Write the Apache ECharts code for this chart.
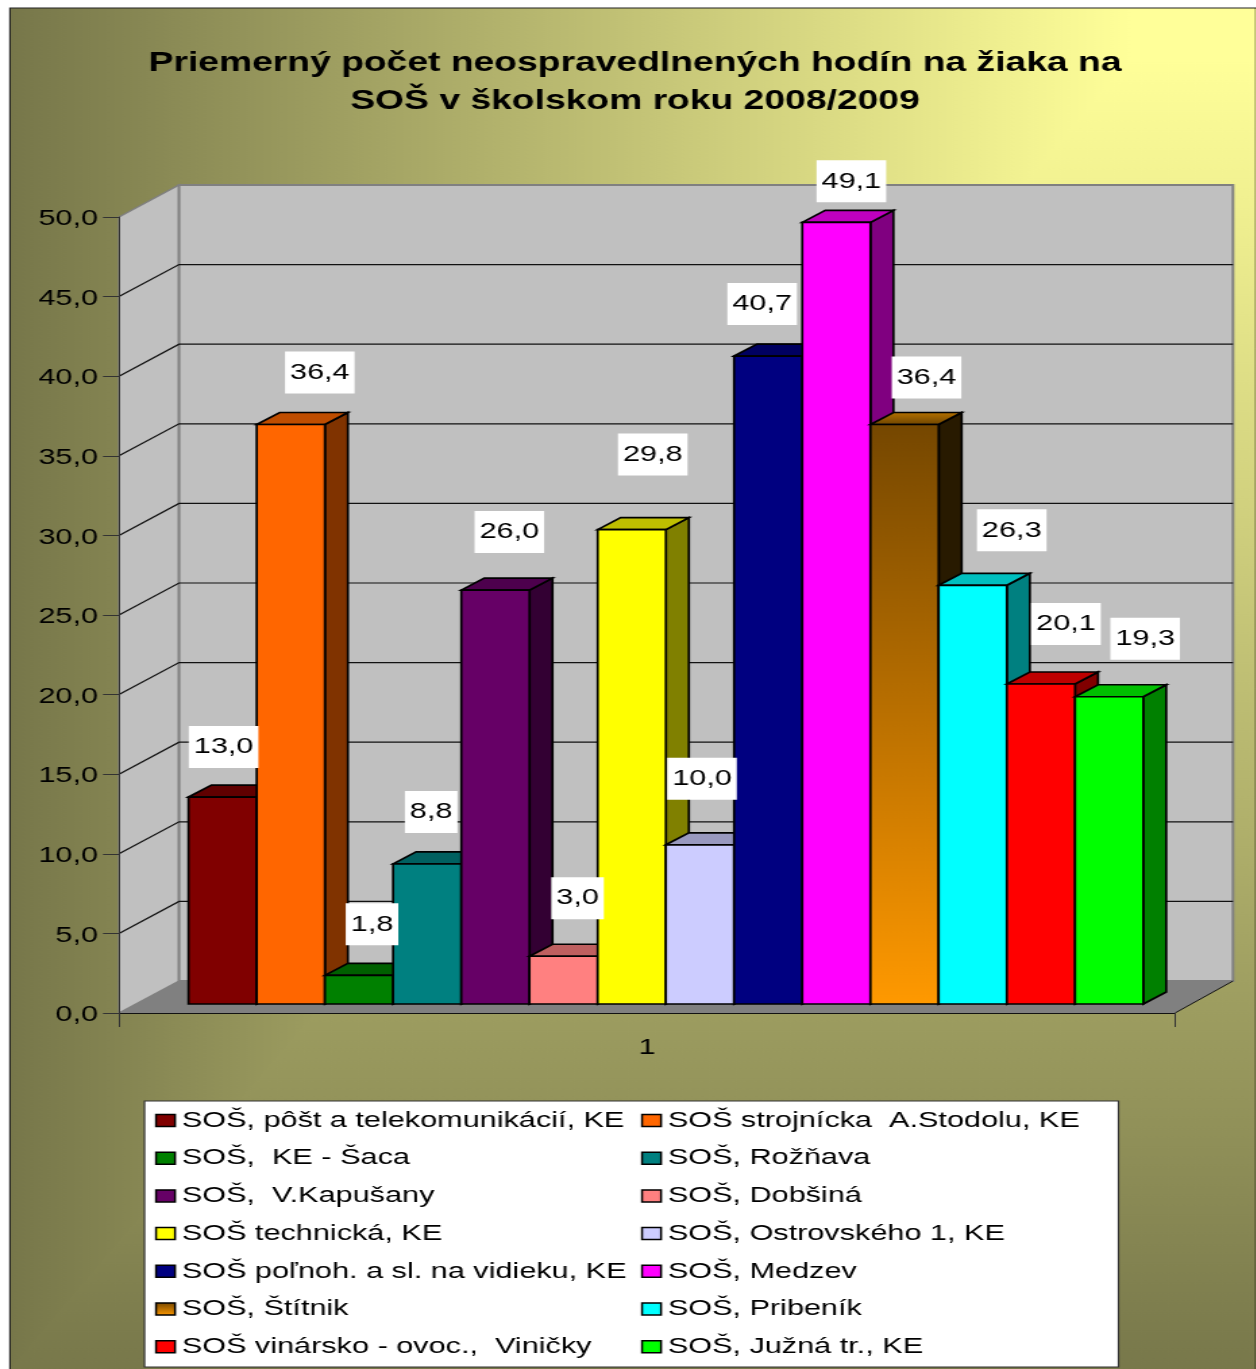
<!DOCTYPE html>
<html><head><meta charset="utf-8">
<style>html,body{margin:0;padding:0;background:#fff;overflow:hidden;width:1256px;height:1369px}
#c{position:absolute;left:0;top:0;transform:scaleX(1.35);transform-origin:0 0}</style>
<script src="https://cdn.jsdelivr.net/npm/echarts@6/dist/echarts.min.js"></script></head>
<body><div id="c"></div>
<script>
// Data
const categories = ['1'];
const schools = ['SOŠ, pôšt a telekomunikácií, KE','SOŠ strojnícka  A.Stodolu, KE','SOŠ,  KE - Šaca','SOŠ, Rožňava','SOŠ,  V.Kapušany','SOŠ, Dobšiná','SOŠ technická, KE','SOŠ, Ostrovského 1, KE','SOŠ poľnoh. a sl. na vidieku, KE','SOŠ, Medzev','SOŠ, Štítnik','SOŠ, Pribeník','SOŠ vinársko - ovoc.,  Viničky','SOŠ, Južná tr., KE'];
const values = [13.0,36.4,1.8,8.8,26.0,3.0,29.8,10.0,40.7,49.1,36.4,26.3,20.1,19.3];
const yTicks = [0,5,10,15,20,25,30,35,40,45,50];
const title = 'Priemerný počet neospravedlnených hodín na žiaka na\nSOŠ v školskom roku 2008/2009';
// Styles and label placement
const barColors = ['#800000','#FF6600','#008000','#008080','#660066','#FF8080','#FFFF00','#CCCCFF','#000080','#FF00FF','#FF9900','#00FFFF','#FF0000','#00FF00'];
const labelShiftX = [1,29,13,4,14,14,21,2,-6,15,22,39,25,36];
const labelLift = [50,52,51,52,58,58,75,66,52,41,47,55,60,58];

const S = 1.35, FONT = 'Liberation Sans', FS = 22.7;
const px = v => v / S;
const W = 1256 / S, H = 1369;
const dom = document.getElementById('c');
dom.style.width = W + 'px'; dom.style.height = H + 'px';
const chart = echarts.init(dom, null, {width: W, height: H});

const shade = (hex, k) => {
  const n = parseInt(hex.slice(1), 16);
  return 'rgb(' + [(n>>16)&255, (n>>8)&255, n&255].map(c => Math.round(c*k)).join(',') + ')';
};
const vGrad = (a, b) => ({type:'linear',x:0,y:0,x2:0,y2:1,colorStops:[{offset:0,color:a},{offset:1,color:b}]});
const BLACK = '#000';
const GRAD = 10;

const WALL_DX = px(60), WALL_DY = -32, WALL_DX_R = px(58);
const BAR_DX = px(23), BAR_DY = -12;
const BASE_DY = -9;

function renderWall(params, api) {
  const v = api.value(1);
  const c = api.coord([0, v]);
  const bw = api.size([1, 0])[0];
  const l = c[0] - bw/2, r = c[0] + bw/2;
  const y = c[1];
  const children = [];
  if (params.dataIndex === 0) {
    const top = api.coord([0, 50])[1];
    children.push(
      {type:'polygon', z2:0, shape:{points:[[l,y],[l+WALL_DX,y+WALL_DY],[r+WALL_DX_R,y+WALL_DY],[r,y]]}, style:{fill:'#808080'}},
      {type:'polygon', z2:0, shape:{points:[[l,top],[l+WALL_DX,top+WALL_DY],[l+WALL_DX,y+WALL_DY],[l,y]]}, style:{fill:'#C0C0C0',stroke:'#808080',lineWidth:1.5}},
      {type:'rect', z2:0, shape:{x:l+WALL_DX,y:top+WALL_DY,width:r+WALL_DX_R-l-WALL_DX,height:y-top}, style:{fill:'#C0C0C0',stroke:'#808080',lineWidth:2}},
      {type:'line', z2:2, shape:{x1:r,y1:y,x2:r+WALL_DX_R,y2:y+WALL_DY}, style:{stroke:'#111',lineWidth:1}}
    );
  }
  if (v > 0 && v < 50) {
    children.push({type:'polyline', z2:1, shape:{points:[[l,y],[l+WALL_DX,y+WALL_DY],[r+WALL_DX_R,y+WALL_DY]]}, style:{stroke:'#111',lineWidth:1.2,fill:null}});
  }
  return {type:'group', children};
}

function makeBarRenderer(i) {
  return function (params, api) {
    const v = api.value(1);
    const bw = api.size([1, 0])[0];
    const cx = api.coord([0, v])[0];
    const barW = bw * 0.06458;
    const x0 = cx - bw/2 + bw*0.0658 + i*barW;
    const x1 = x0 + barW;
    const yT = api.coord([0, v])[1] + BASE_DY;
    const yB = api.coord([0, 0])[1] + BASE_DY;
    const line = {stroke:BLACK, lineWidth:1.7, lineJoin:'miter'};
    const isGrad = i === GRAD;
    const frontFill = isGrad ? vGrad('#754700', barColors[i]) : barColors[i];
    const topFill = isGrad ? vGrad('#b87300', '#6b4300') : shade(barColors[i], 0.75);
    const sideFill = isGrad ? '#281A00' : shade(barColors[i], 0.5);
    return {type:'group', children:[
      {type:'polygon', z2:10+i, shape:{points:[[x1,yT],[x1+BAR_DX,yT+BAR_DY],[x1+BAR_DX,yB+BAR_DY],[x1,yB]]}, style:{fill:sideFill,...line}},
      {type:'polygon', z2:10+i, shape:{points:[[x0,yT],[x0+BAR_DX,yT+BAR_DY],[x1+BAR_DX,yT+BAR_DY],[x1,yT]]}, style:{fill:topFill,...line}},
      {type:'rect', z2:10+i, shape:{x:x0,y:yT,width:barW,height:yB-yT}, style:{fill:frontFill,...line}},
      {type:'text', z2:100, style:{
        text:v.toFixed(1).replace('.',','), x:(x0+x1)/2+px(labelShiftX[i]), y:yT-labelLift[i],
        align:'center', verticalAlign:'middle', fill:'#000',
        font:FS+'px "'+FONT+'"', backgroundColor:'#fff', padding:[5,px(5),14,px(5)]
      }}
    ]};
  };
}

const series = [{
  type:'custom', name:'_walls', z:-1, silent:true,
  coordinateSystem:'cartesian2d', encode:{x:0,y:1},
  data:yTicks.map(t => [0,t]), renderItem:renderWall
}].concat(schools.map((name,i) => ({
  type:'custom', name, z:2, silent:true,
  coordinateSystem:'cartesian2d', encode:{x:0,y:1},
  itemStyle:{color: i===GRAD ? vGrad('#754700', barColors[i]) : barColors[i]},
  data:[[0,values[i]]], renderItem:makeBarRenderer(i)
})));

const legendBase = {
  orient:'vertical', top:1109, padding:0, itemWidth:px(19), itemHeight:12, itemGap:14.7,
  icon:'rect', selectedMode:false,
  itemStyle:{borderColor:'#000',borderWidth:1.5},
  textStyle:{color:'#000',fontFamily:FONT,fontSize:FS}
};
const olive = '#77774A', pale = '#FFFF99';
const CX = px(1130), CY = 60, LEFT = px(10), TOP = 8;
const hGradient = {type:'linear',x:0,y:0,x2:1,y2:0,colorStops:[{offset:0,color:olive},{offset:1,color:pale}]};
const vGradient = {type:'linear',x:0,y:0,x2:0,y2:1,colorStops:[{offset:0,color:pale},{offset:(CY-TOP)/(H-TOP),color:pale},{offset:1,color:olive}]};

chart.setOption({
  animation:false,
  backgroundColor:'#fff',
  title:{text:title,left:px(635),textAlign:'center',top:44,padding:0,
    textStyle:{color:'#000',fontFamily:FONT,fontWeight:'bold',fontSize:27.6,lineHeight:38}},
  grid:{left:px(119),top:217,width:px(1056),height:796},
  xAxis:{type:'category',data:categories,z:1,
    axisLine:{show:true,onZero:false,lineStyle:{color:'#111',width:1.2}},
    axisTick:{show:true,length:14,lineStyle:{color:'#333',width:1}},
    axisLabel:{color:'#000',fontFamily:FONT,fontSize:FS,margin:23},splitLine:{show:false}},
  yAxis:{type:'value',min:0,max:50,interval:5,z:1,
    axisLine:{show:true,lineStyle:{color:'#333',width:1}},
    axisTick:{show:true,length:px(16),lineStyle:{color:'#333',width:1}},
    axisLabel:{color:'#000',fontFamily:FONT,fontSize:FS,margin:px(21),verticalAlign:'top',lineHeight:4,formatter:v=>v.toFixed(1).replace('.',',')},
    splitLine:{show:false}},
  legend:[
    {...legendBase,left:px(155),data:schools.filter((_,i)=>i%2===0)},
    {...legendBase,left:px(641),data:schools.filter((_,i)=>i%2===1)}
  ],
  graphic:{elements:[
    {type:'rect',z:-20,shape:{x:LEFT,y:TOP,width:W,height:H},style:{fill:vGradient}},
    {type:'polygon',z:-19,shape:{points:[[LEFT,TOP],[CX,TOP],[CX,CY],[LEFT,H]]},style:{fill:hGradient}},
    {type:'polyline',z:-18,shape:{points:[[LEFT,H],[LEFT,TOP],[W,TOP]]},style:{fill:null,stroke:'#222',lineWidth:1.2}},
    {type:'line',z:-18,shape:{x1:px(1255),y1:TOP,x2:px(1255),y2:H},style:{stroke:'rgba(0,0,0,0.25)',lineWidth:1}},
    {type:'rect',z:-5,shape:{x:px(144.5),y:1101,width:px(974),height:266},style:{fill:'#fff',stroke:'#333',lineWidth:1.2}}
  ]},
  series
});
</script></body></html>
